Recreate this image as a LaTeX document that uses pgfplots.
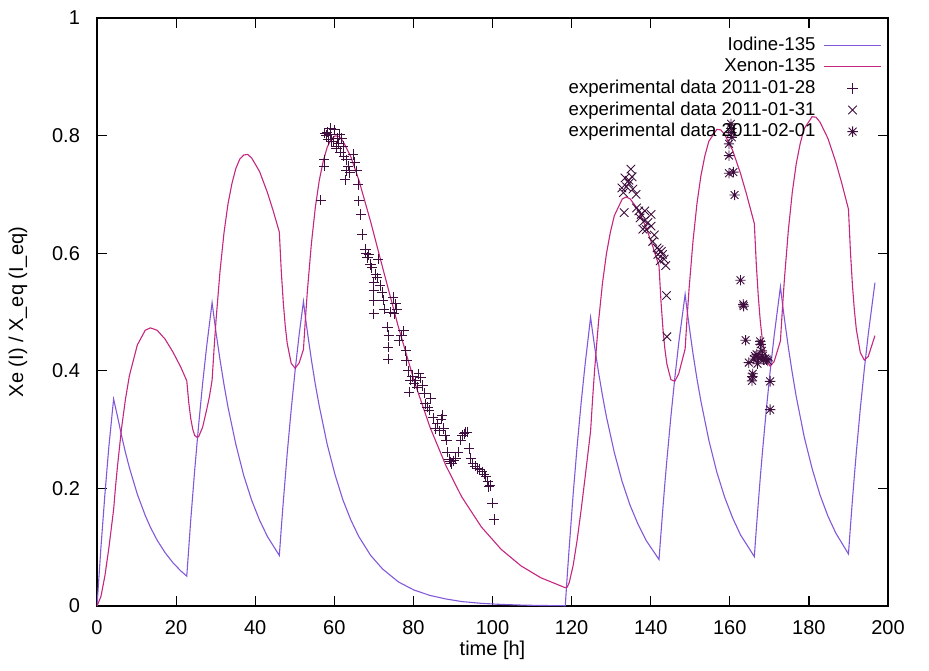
\documentclass[border=0pt]{standalone}
\usepackage{fontspec}
\setmainfont{Liberation Sans}
\usepackage{pgfplots}
\pgfplotsset{compat=1.18}
\definecolor{iodc}{RGB}{130,88,218}
\definecolor{xenc}{RGB}{196,38,128}
\definecolor{datc}{RGB}{62,14,62}
\pgfdeclareplotmark{gpstar}{%
  \pgfpathmoveto{\pgfqpoint{-\pgfplotmarksize}{0pt}}\pgfpathlineto{\pgfqpoint{\pgfplotmarksize}{0pt}}%
  \pgfpathmoveto{\pgfqpoint{0pt}{-\pgfplotmarksize}}\pgfpathlineto{\pgfqpoint{0pt}{\pgfplotmarksize}}%
  \pgfpathmoveto{\pgfqpoint{-.75\pgfplotmarksize}{-.75\pgfplotmarksize}}\pgfpathlineto{\pgfqpoint{.75\pgfplotmarksize}{.75\pgfplotmarksize}}%
  \pgfpathmoveto{\pgfqpoint{-.75\pgfplotmarksize}{.75\pgfplotmarksize}}\pgfpathlineto{\pgfqpoint{.75\pgfplotmarksize}{-.75\pgfplotmarksize}}%
  \pgfusepathqstroke}
\pgfplotsset{
  lineleg/.style={legend image code/.code={\draw[##1] (0pt,0pt) -- (28.5pt,0pt);}},
  markleg/.style={legend image code/.code={\draw[##1] plot coordinates {(14.25pt,0pt)};}},
}

\pgfplotstableread{
t I
0 0
1 0.100
2 0.190
3 0.271
4.2 0.352
5.2 0.322
6.2 0.290
7.2 0.261
8.2 0.235
10.2 0.190
12.2 0.154
13.5 0.134
15.2 0.112
17.2 0.0909
19.2 0.0736
21.2 0.0596
22.7 0.0508
23.7 0.146
24.7 0.231
25.7 0.308
26.7 0.378
27.7 0.440
29.1 0.516
29.6 0.490
30.1 0.465
31.1 0.419
32.1 0.377
33.1 0.339
35.1 0.275
37.1 0.222
39.1 0.180
41.1 0.146
43.1 0.118
46.1 0.086
46.6 0.133
47.1 0.177
48.1 0.260
49.1 0.334
50.1 0.401
51.1 0.461
52.2 0.518
52.7 0.491
53.2 0.466
54.2 0.419
55.2 0.377
56.2 0.340
58.2 0.275
60.2 0.223
62.2 0.180
64.2 0.146
66.2 0.118
69.2 0.086
72.2 0.063
76.2 0.041
80.2 0.027
84.2 0.018
88.2 0.012
92.2 0.0076
97.2 0.0045
102.2 0.0027
107.2 0.0016
112.2 0.0009
118.4 0.0005
118.9 0.052
119.4 0.100
120.4 0.191
121.4 0.272
122.4 0.345
123.4 0.410
124.8 0.491
125.3 0.466
125.8 0.442
126.8 0.398
127.8 0.358
128.8 0.322
130.8 0.261
132.8 0.211
134.8 0.171
136.8 0.139
138.8 0.112
142.1 0.079
142.6 0.124
143.1 0.168
143.6 0.210
144.1 0.249
145.1 0.322
146.1 0.388
147.1 0.448
148.7 0.530
149.2 0.503
149.7 0.477
150.7 0.429
151.7 0.386
152.7 0.348
154.7 0.282
156.7 0.228
158.7 0.185
160.7 0.150
162.7 0.121
166.2 0.084
166.7 0.131
167.2 0.175
167.7 0.218
168.2 0.258
169.2 0.332
170.2 0.399
171.2 0.459
172.8 0.543
173.3 0.515
173.8 0.489
174.8 0.440
175.8 0.396
176.8 0.356
178.8 0.288
180.8 0.234
182.8 0.189
184.8 0.153
186.8 0.124
190.0 0.0885
190.5 0.135
191.0 0.180
191.5 0.222
192.0 0.262
193.0 0.336
194.0 0.402
195.0 0.462
196.7 0.550
}\iodine

\pgfplotstableread{
t X
0 0
1 0.0163
2 0.0514
3 0.0986
4.2 0.164
4.7 0.204
5.2 0.239
6.2 0.302
7.2 0.352
8.2 0.392
10.2 0.444
12.2 0.469
13.5 0.473
15.2 0.469
17.2 0.454
19.2 0.432
21.2 0.406
22.7 0.383
23.2 0.346
23.7 0.319
24.2 0.301
24.7 0.290
25.3 0.287
25.7 0.288
26.7 0.304
27.7 0.333
28.4 0.355
29.1 0.384
29.6 0.4375
30.1 0.4864
31.1 0.569
32.1 0.634
33.1 0.683
34.1 0.718
35.1 0.744
36.1 0.760
37.1 0.767
38.1 0.768
39.1 0.762
41.1 0.739
43.1 0.703
44.6 0.671
46.1 0.636
46.6 0.5685
47.1 0.5161
47.6 0.4760
48.1 0.4466
49.1 0.4129
50.1 0.4043
51.1 0.4132
52.2 0.4363
52.7 0.4888
53.2 0.5362
54.2 0.6159
55.2 0.6777
56.2 0.7239
57.2 0.7565
58.2 0.7802
59.2 0.7939
60.2 0.7996
61.2 0.7984
62.2 0.7904
64.2 0.7636
66.2 0.7246
69.2 0.6533
72.2 0.5760
76.2 0.4746
80.2 0.3826
84.2 0.3040
88.2 0.2390
92.2 0.1858
97.2 0.1343
102.2 0.0963
107.2 0.0683
112.2 0.0481
118.4 0.0311
118.9 0.0323
119.4 0.0398
120.4 0.0693
121.4 0.1121
122.4 0.1630
123.4 0.2181
124.8 0.2975
125.3 0.3513
125.8 0.4000
126.8 0.4830
127.8 0.5486
128.8 0.5988
129.8 0.6358
130.8 0.6638
132.8 0.6922
133.8 0.6957
134.8 0.6923
136.8 0.6745
138.8 0.6442
140.3 0.6161
142.1 0.5783
142.6 0.5179
143.1 0.4712
143.6 0.4362
144.1 0.4112
145.1 0.3850
146.1 0.3821
147.1 0.3955
148.7 0.4370
149.2 0.4907
149.7 0.5393
150.7 0.6211
151.7 0.6846
152.7 0.7321
153.7 0.7658
154.7 0.7903
156.7 0.8106
157.7 0.8098
158.7 0.8019
160.7 0.7751
162.7 0.7358
164.2 0.7010
166.2 0.6505
166.7 0.5811
167.2 0.5267
167.7 0.4850
168.2 0.4541
169.2 0.4182
170.2 0.4079
171.2 0.4156
172.8 0.4507
173.3 0.5056
173.8 0.5553
174.8 0.6388
175.8 0.7037
176.8 0.7522
177.8 0.7866
178.8 0.8116
180.8 0.8321
181.8 0.8312
182.8 0.8230
184.8 0.7953
186.8 0.7549
188.3 0.7192
190.0 0.6749
190.5 0.6029
191.0 0.5463
191.5 0.5026
192.0 0.4699
193.0 0.4310
194.0 0.4183
195.0 0.4242
196.7 0.4599
}\xenon

\pgfplotstableread{
t y
56.6 0.690
57.4 0.759
57.4 0.748
57.6 0.804
58.0 0.800
58.2 0.806
58.4 0.793
58.9 0.802
59.0 0.812
59.3 0.790
59.7 0.790
60.1 0.810
60.5 0.781
60.6 0.779
60.8 0.795
61.0 0.787
61.4 0.802
61.6 0.772
61.8 0.796
62.2 0.782
62.4 0.765
62.7 0.725
63.0 0.740
63.1 0.759
63.5 0.748
63.9 0.737
64.8 0.768
65.2 0.754
65.6 0.740
66.0 0.717
66.2 0.689
66.7 0.666
67.0 0.632
67.9 0.607
68.0 0.600
68.4 0.593
68.7 0.598
69.2 0.581
69.5 0.575
70.0 0.550
70.0 0.536
70.0 0.519
70.0 0.497
70.5 0.564
70.8 0.558
71.1 0.590
71.6 0.545
72.1 0.533
72.3 0.520
72.6 0.505
73.4 0.474
73.6 0.440
73.6 0.420
73.8 0.460
74.2 0.500
74.9 0.525
75.1 0.497
75.5 0.514
75.8 0.505
76.4 0.451
77.0 0.460
77.5 0.468
78.1 0.434
78.3 0.417
78.7 0.400
78.9 0.364
79.3 0.384
79.8 0.390
80.2 0.378
80.6 0.383
81.0 0.372
81.4 0.395
81.8 0.388
82.3 0.375
82.8 0.362
83.1 0.344
83.6 0.338
84.0 0.333
84.4 0.353
85.0 0.320
85.6 0.302
86.0 0.310
86.6 0.298
87.0 0.318
87.3 0.324
87.7 0.302
88.0 0.290
88.4 0.282
88.6 0.262
89.0 0.250
89.3 0.245
89.6 0.242
90.2 0.247
90.7 0.251
91.3 0.262
92.0 0.282
92.4 0.290
92.8 0.293
93.2 0.296
93.6 0.296
94.1 0.268
94.5 0.251
95.0 0.242
95.6 0.238
96.2 0.234
96.8 0.232
97.4 0.228
97.9 0.224
98.3 0.220
98.8 0.212
99.1 0.203
99.4 0.205
100.0 0.175
100.4 0.147
}\dataA

\pgfplotstableread{
t y
132.7 0.711
133.1 0.703
133.3 0.669
133.5 0.728
133.9 0.713
134.5 0.719
134.5 0.724
135.0 0.743
135.3 0.730
135.5 0.709
136.3 0.700
136.4 0.677
137.0 0.672
137.3 0.660
137.6 0.666
138.0 0.641
138.4 0.655
138.5 0.672
138.9 0.640
139.3 0.652
140.1 0.646
140.1 0.666
140.5 0.620
140.9 0.631
141.6 0.609
141.8 0.598
142.1 0.606
142.4 0.587
142.7 0.603
143.0 0.598
143.4 0.590
143.8 0.579
144.0 0.528
144.1 0.458
}\dataB

\pgfplotstableread{
t y
160.4 0.812
160.3 0.820
160.4 0.805
160.5 0.797
159.8 0.786
159.8 0.766
159.8 0.736
160.9 0.738
161.2 0.699
162.7 0.554
163.4 0.513
163.5 0.510
164.0 0.452
164.8 0.414
165.6 0.383
165.7 0.390
165.8 0.395
166.1 0.420
166.4 0.425
166.8 0.428
167.0 0.412
167.3 0.422
167.7 0.450
167.8 0.445
168.1 0.434
168.3 0.425
168.5 0.419
169.0 0.421
169.3 0.419
169.6 0.417
170.2 0.382
170.2 0.334
}\dataC

\begin{document}
\begin{tikzpicture}
\useasboundingbox (-48.5pt,-32pt) rectangle (416pt,303pt);
\begin{axis}[
  at={(0pt,0pt)}, anchor=south west,
  scale only axis, width=395.5pt, height=294pt,
  xmin=0, xmax=200, ymin=0, ymax=1,
  xtick={0,20,40,60,80,100,120,140,160,180,200},
  ytick={0,0.2,0.4,0.6,0.8,1},
  tick align=inside, major tick length=5pt,
  every tick/.style={black, line width=0.6pt},
  axis line style={line width=0.8pt},
  font=\fontsize{10}{12}\selectfont,
  /pgf/number format/assume math mode=true,
  xticklabel style={yshift=-3.5pt},
  yticklabel style={xshift=-5pt},
  xlabel={time [h]},
  ylabel={Xe (I) / X\_eq (I\_eq)},
  xlabel style={at={(axis description cs:0.5,-0.0748)}, anchor=center},
  ylabel style={at={(axis description cs:-0.0999,0.5)}, anchor=center},
  legend cell align=right,
  legend plot pos=right,
  legend style={draw=none, fill=none, at={(1,1)}, anchor=north east,
    xshift=-3pt, yshift=-8pt, inner sep=0pt, row sep=0pt, column sep=3pt,
    nodes={inner ysep=0.9pt, inner xsep=1pt, text height=7pt, text depth=2pt},
    font=\fontsize{9.3}{11}\selectfont},
]
\addplot[iodc, line width=0.55pt, lineleg] table[x=t,y=I] {\iodine};
\addlegendentry{Iodine-135}
\addplot[xenc, line width=0.55pt, lineleg] table[x=t,y=X] {\xenon};
\addlegendentry{Xenon-135}
\addplot[only marks, mark=+, mark size=2.6pt, datc, mark options={line width=0.45pt}, markleg] table[x=t,y=y] {\dataA};
\addlegendentry{experimental data 2011-01-28}
\addplot[only marks, mark=x, mark size=3pt, datc, mark options={line width=0.45pt}, markleg] table[x=t,y=y] {\dataB};
\addlegendentry{experimental data 2011-01-31}
\addplot[only marks, mark=gpstar, mark size=2.6pt, datc, mark options={line width=0.45pt}, markleg] table[x=t,y=y] {\dataC};
\addlegendentry{experimental data 2011-02-01}
\end{axis}
\end{tikzpicture}
\end{document}
